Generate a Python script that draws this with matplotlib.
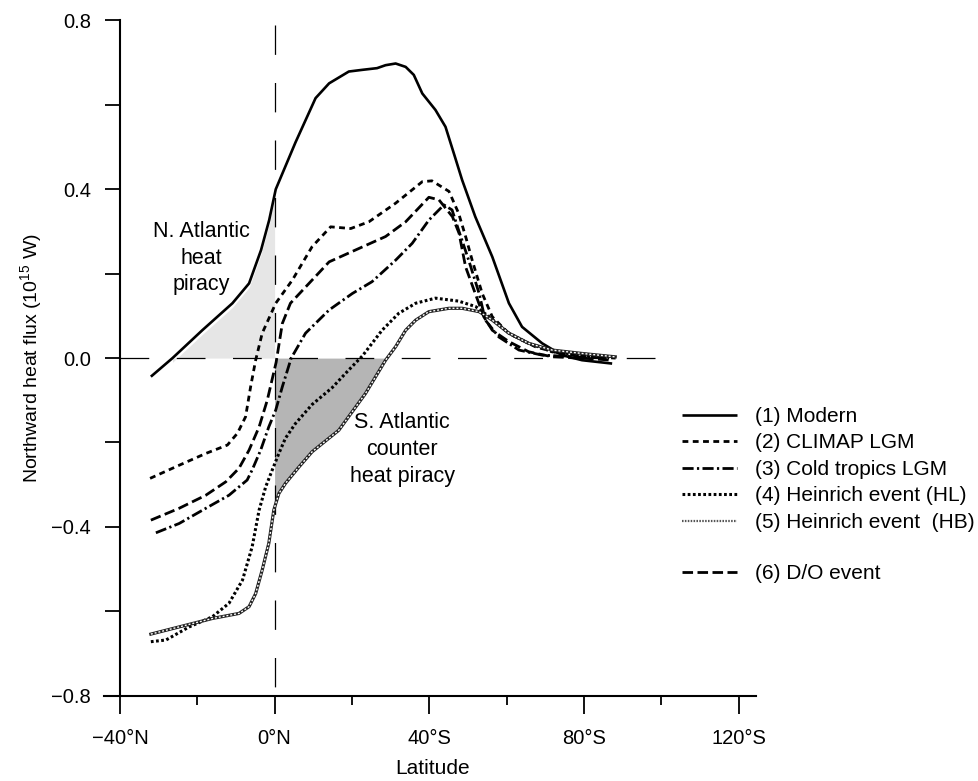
import matplotlib
matplotlib.use("Agg")
import matplotlib.pyplot as plt
from matplotlib import font_manager
from matplotlib.lines import Line2D
import numpy as np

names = {f.name for f in font_manager.fontManager.ttflist}
base = "Liberation Sans" if "Liberation Sans" in names else "DejaVu Sans"
narrow = "Liberation Sans Narrow" if "Liberation Sans Narrow" in names else base
plt.rcParams["font.family"] = [base, "DejaVu Sans"]
plt.rcParams["mathtext.fontset"] = "custom"
plt.rcParams["mathtext.rm"] = narrow

# (1) Modern
mod_x = [-32.0, -26.4, -18.7, -10.9, -6.6, -3.5, -1.4, 0.3, 5.4, 10.6, 14.1, 19.2, 22.7, 26.5, 28.7,
         31.3, 33.9, 36.0, 38.2, 41.6, 44.2, 46.6, 48.5, 51.9, 56.3, 60.6, 64.0, 69.2, 74.3, 79.5, 87.3]
mod_y = [-0.044, 0.0, 0.066, 0.130, 0.177, 0.256, 0.327, 0.400, 0.511, 0.616, 0.651, 0.679, 0.683, 0.687, 0.694,
         0.698, 0.690, 0.671, 0.627, 0.588, 0.548, 0.478, 0.422, 0.335, 0.240, 0.130, 0.074, 0.035, 0.007, -0.005, -0.013]
# (2) CLIMAP LGM
cli_x = [-32.2, -24.7, -17.8, -12.2, -9.6, -7.5, -6.2, -4.9, -3.2, 0.3, 4.6, 9.7, 14.5, 19.7, 24.4,
         31.3, 38.2, 40.7, 45.1, 47.6, 49.5, 51.1, 53.7, 56.3, 60.6, 67.4, 73.6, 82.1, 88.2]
cli_y = [-0.285, -0.254, -0.226, -0.206, -0.178, -0.139, -0.068, -0.005, 0.059, 0.130, 0.185, 0.264, 0.311, 0.307, 0.323,
         0.367, 0.418, 0.420, 0.395, 0.343, 0.285, 0.232, 0.153, 0.098, 0.058, 0.027, 0.011, 0.003, 0.0]
# (3) Cold tropics LGM
ct_x = [-30.7, -24.7, -17.8, -11.8, -7.1, -5.8, -3.6, -1.5, 0.3, 2.0, 4.3, 8.0, 14.1, 20.1, 25.2,
        31.3, 35.6, 39.9, 43.8, 45.9, 47.7, 50.2, 52.9, 54.5, 58.0, 63.2, 69.2, 77.8, 86.5]
ct_y = [-0.414, -0.392, -0.356, -0.325, -0.289, -0.265, -0.218, -0.163, -0.123, -0.068, 0.0, 0.059, 0.114, 0.153, 0.181,
        0.232, 0.272, 0.327, 0.363, 0.351, 0.300, 0.232, 0.153, 0.090, 0.050, 0.019, 0.007, 0.003, 0.0]
# (4) Heinrich event (HL)
hl_x = [-32.0, -28.1, -22.1, -16.1, -11.8, -8.3, -5.8, -4.0, -2.3, -0.6, 1.1, 2.8, 5.4, 9.7, 14.9, 19.2,
        22.7, 27.8, 32.1, 36.5, 41.6, 47.6, 52.0, 55.5, 60.6, 65.7, 71.8, 79.5, 87.3]
hl_y = [-0.672, -0.668, -0.637, -0.613, -0.581, -0.526, -0.447, -0.360, -0.305, -0.265, -0.226, -0.190, -0.155, -0.110, -0.070, -0.028,
        0.005, 0.066, 0.106, 0.130, 0.142, 0.135, 0.122, 0.098, 0.059, 0.035, 0.015, 0.007, 0.003]
# (5) Heinrich event (HB)
hb_x = [-32.0, -24.7, -16.1, -9.2, -6.6, -4.9, -3.2, -1.5, -0.2, 1.1, 2.8, 6.3, 9.7, 16.6, 23.5,
        28.7, 31.3, 33.9, 36.5, 39.9, 45.1, 48.5, 52.9, 56.3, 60.6, 65.7, 71.8, 79.5, 88.1]
hb_y = [-0.654, -0.637, -0.617, -0.605, -0.589, -0.558, -0.502, -0.439, -0.360, -0.321, -0.297, -0.258, -0.222, -0.171, -0.084,
        -0.005, 0.027, 0.066, 0.090, 0.110, 0.118, 0.118, 0.110, 0.090, 0.059, 0.035, 0.019, 0.011, 0.003]
# (6) D/O event
do_x = [-32.0, -24.7, -17.8, -12.6, -9.2, -6.6, -4.0, -1.9, 0.4, 2.0, 4.1, 8.9, 14.1, 20.9, 28.7,
        33.9, 39.9, 42.5, 46.0, 47.7, 49.4, 51.9, 54.1, 56.3, 60.6, 65.7, 71.8, 79.5, 87.3]
do_y = [-0.384, -0.356, -0.325, -0.293, -0.261, -0.218, -0.163, -0.100, -0.010, 0.082, 0.130, 0.177, 0.228, 0.256, 0.288,
        0.323, 0.381, 0.375, 0.335, 0.296, 0.216, 0.153, 0.098, 0.066, 0.039, 0.015, 0.003, 0.0, -0.005]

labels = ["(1) Modern", "(2) CLIMAP LGM", "(3) Cold tropics LGM", "(4) Heinrich event (HL)",
          "(5) Heinrich event  (HB)", "(6) D/O event"]
xticks = [-40, 0, 40, 80, 120]
xticklabels = ["\u221240\u00b0N", "0\u00b0N", "40\u00b0S", "80\u00b0S", "120\u00b0S"]
yticks = [-0.8, -0.4, 0.0, 0.4, 0.8]
yticklabels = ["\u22120.8", "\u22120.4", "0.0", "0.4", "0.8"]

fig = plt.figure(figsize=(9.79, 7.81), dpi=100)
ax = fig.add_axes([0.1067, 0.1092, 0.6655, 0.8646])

# shaded areas
xs = np.linspace(mod_x[1], 0, 200)
ax.fill_between(xs, 0, np.interp(xs, mod_x, mod_y) - 0.01, color="#e6e6e6", lw=0, zorder=1)
xs = np.linspace(0, 35, 300)
yb = np.interp(xs, hb_x, hb_y)
ax.fill_between(xs, 0, yb, where=yb < 0, interpolate=True, color="#b5b5b5", lw=0, zorder=1)

# guide lines
ax.plot([-40, 100.5], [0, 0], color="black", lw=0.9, dashes=(23, 22), dash_capstyle="butt", zorder=2)
ax.plot([0, 0], [0.79, -0.8], color="black", lw=0.9, dashes=(23.5, 22.5), dash_capstyle="butt", zorder=2)

k = dict(color="black", zorder=4)
h1, = ax.plot(mod_x, mod_y, lw=1.9, solid_capstyle="butt", **k)
h2, = ax.plot(cli_x, cli_y, lw=2.0, dashes=(2.1, 1.6), dash_capstyle="butt", **k)
h3, = ax.plot(ct_x, ct_y, lw=2.0, dashes=(4.0, 1.2, 0.8, 1.2), dash_capstyle="butt", **k)
h4, = ax.plot(hl_x, hl_y, lw=2.2, dashes=(0.9, 0.8), dash_capstyle="butt", **k)
ax.plot(hb_x, hb_y, lw=2.3, color="#222222", zorder=4)
ax.plot(hb_x, hb_y, lw=1.0, color="white", dashes=(1.4, 1.4), dash_capstyle="butt", zorder=5)
h5 = Line2D([], [], color="#555555", lw=1.6, dashes=(0.7, 0.6), dash_capstyle="butt")
h6, = ax.plot(do_x, do_y, lw=2.0, dashes=(3.8, 1.6), dash_capstyle="butt", **k)

ax.text(-18.9, 0.237, "N. Atlantic\nheat\npiracy", ha="center", va="center",
        fontsize=15.5, linespacing=1.37, zorder=6)
ax.text(33.0, -0.216, "S. Atlantic\ncounter\nheat piracy", ha="center", va="center",
        fontsize=15.5, linespacing=1.37, zorder=6)

ax.set_xlim(-44, 124.5)
ax.set_ylim(-0.8, 0.8)
ax.spines["top"].set_visible(False)
ax.spines["right"].set_visible(False)
ax.spines["left"].set_position(("data", -40))
for s in ("left", "bottom"):
    ax.spines[s].set_linewidth(1.5)

ax.set_xticks(xticks)
ax.set_xticklabels(xticklabels)
ax.set_xticks([-20, 20, 60, 100], minor=True)
ax.set_yticks(yticks)
ax.set_yticklabels(yticklabels)
ax.set_yticks([-0.6, -0.2, 0.2, 0.6], minor=True)
ax.tick_params(axis="x", which="major", length=13, width=1.3, pad=11, labelsize=14.5)
ax.tick_params(axis="x", which="minor", length=6.5, width=1.3)
ax.tick_params(axis="y", which="both", length=11, width=1.3, pad=10, labelsize=14.5)

ax.set_xlabel("Latitude", fontsize=15)
ax.xaxis.set_label_coords(0.504, -0.094)
ax.set_ylabel(r"Northward heat flux (10$^{\mathrm{15}}$ W)", fontsize=14, family=[narrow, "DejaVu Sans"])
ax.yaxis.set_label_coords(-0.091, 0.5)

leg_kw = dict(loc="upper left", frameon=False, fontsize=15, handlelength=2.65,
              handletextpad=0.85, labelspacing=0.36)
fig.legend([h1, h2, h3, h4, h5], labels[:5], bbox_to_anchor=(0.6776, 0.503), **leg_kw)
fig.legend([h6], labels[5:], bbox_to_anchor=(0.6776, 0.302), **leg_kw)

fig.savefig("out.png", dpi=100)
